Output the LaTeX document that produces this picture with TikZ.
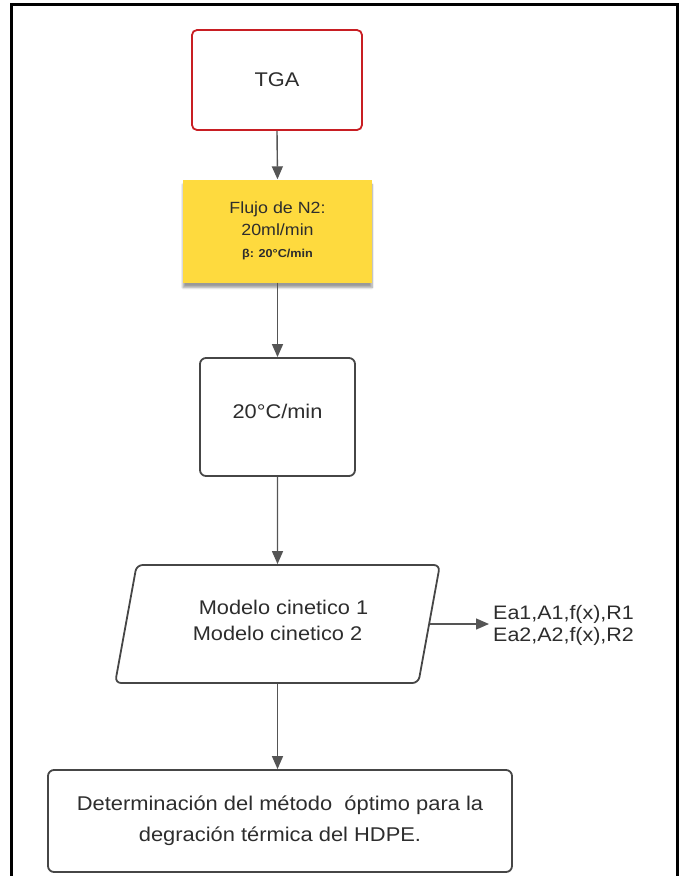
\documentclass[tikz,border=0pt]{standalone}
\usepackage{fontspec}
\setmainfont{Liberation Sans}[FakeStretch=1.1]
\usetikzlibrary{arrows.meta,shapes.geometric,shadows.blur}
\definecolor{redb}{RGB}{200,30,35}
\definecolor{yel}{RGB}{254,218,62}
\definecolor{edgec}{RGB}{70,70,70}
\definecolor{arr}{RGB}{85,85,85}
\definecolor{txt}{RGB}{45,45,45}
\begin{document}
\begin{tikzpicture}[x=1pt,y=-1pt,
 box/.style={draw=edgec, line width=1.8pt, rounded corners=6pt, text=txt,
   font=\fontsize{19.8}{24}\selectfont, align=center, inner sep=0pt},
 notebox/.style={fill=yel, text=txt, align=center, inner sep=0pt,
   blur shadow={shadow xshift=0pt, shadow yshift=-5pt, shadow opacity=40, shadow blur steps=8}},
 link/.style={draw=arr, line width=1.4pt, -{Triangle[length=13pt,width=11pt]}},
]
\useasboundingbox (0,0) rectangle (682,876);
\draw[line width=3pt] (11,892) -- (11,4) -- (677,4) -- (677,892);

\node[box, draw=redb, rounded corners=5pt, minimum width=170pt, minimum height=100pt] (tga) at (277,80) {TGA};

\node[notebox, minimum width=189pt, minimum height=103pt, font=\fontsize{16.2}{22}\selectfont] (flujo) at (277.5,231)
  {Flujo de N2:\\20ml/min\\{\fontsize{11.5}{14}\selectfont\bfseries β: 20°C/min}};

\node[box, minimum width=155pt, minimum height=118pt, text depth=12pt] (rate) at (277.5,417) {20°C/min};

\node[box, shape=trapezium, trapezium left angle=74, trapezium right angle=106,
  trapezium stretches=true, minimum width=325pt, minimum height=118pt,
  font=\fontsize{19.8}{26}\selectfont] (para) at (277.5,624)
  {\hspace*{12pt}Modelo cinetico 1\\Modelo cinetico 2\\[-18pt]};

\node[text=txt, align=left, inner sep=0pt, anchor=west, font=\fontsize{19.5}{22}\selectfont] (ea) at (493,625)
  {Ea1,A1,f(x),R1\\Ea2,A2,f(x),R2};

\node[box, minimum width=464pt, minimum height=102pt, font=\fontsize{19.9}{31}\selectfont] (det) at (280,821)
  {Determinación del método\ \ óptimo para la\\degración térmica del HDPE.};

\draw[link] (tga.south) -- (flujo.north);
\draw[link] (flujo.south) -- (rate.north);
\draw[link] (rate.south) -- (para.north);
\draw[link, shorten >=4pt] (para.east) -- (para.east -| ea.west);
\draw[link] (para.south) -- (para.south |- det.north);
\end{tikzpicture}
\end{document}
